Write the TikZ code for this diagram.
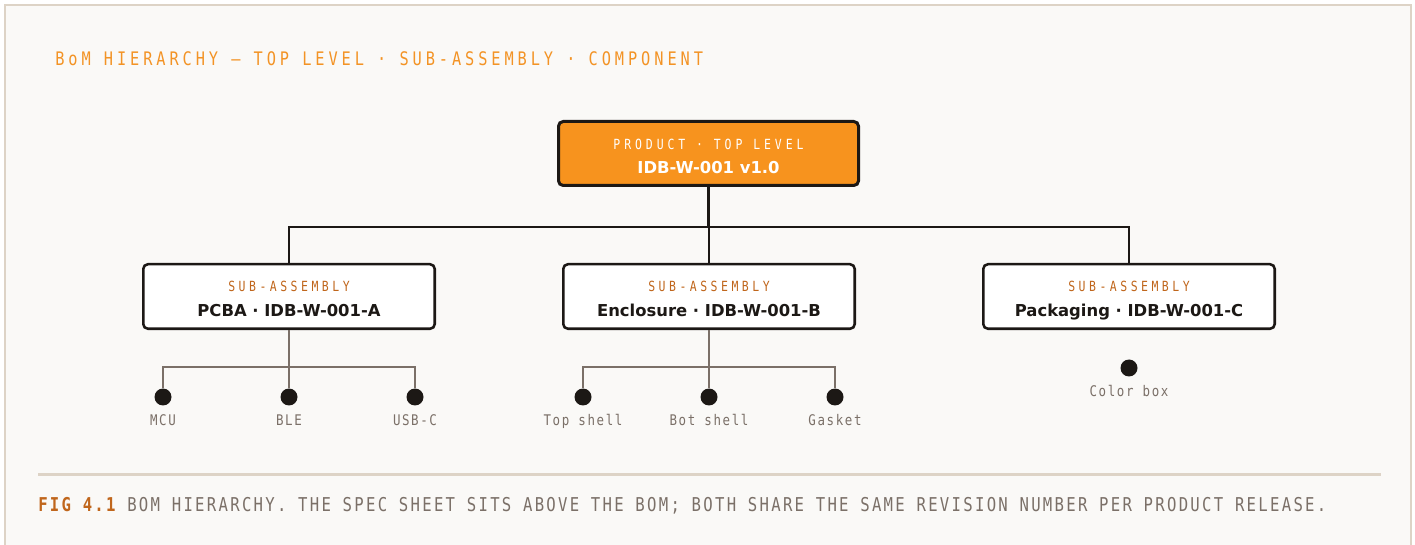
\documentclass[tikz,border=0pt]{standalone}
\usepackage{fontspec}
\usetikzlibrary{positioning}
\definecolor{bomOrange}{HTML}{F7931E}
\definecolor{bomTitle}{HTML}{F39325}
\definecolor{bomRust}{HTML}{C0661C}
\definecolor{bomInk}{HTML}{1C1815}
\definecolor{bomTaupe}{HTML}{7B7068}
\definecolor{bomPaper}{HTML}{FAF9F7}
\definecolor{bomRule}{HTML}{DDD3C6}
\newfontfamily\bomSans{DejaVu Sans}
\newfontfamily\monoTitle[FakeStretch=0.82,LetterSpace=21]{DejaVu Sans Mono}
\newfontfamily\monoCap[FakeStretch=0.82,LetterSpace=12]{DejaVu Sans Mono}
\newfontfamily\monoTag[FakeStretch=0.82,LetterSpace=28]{DejaVu Sans Mono}
\newfontfamily\monoSub[FakeStretch=0.82,LetterSpace=25]{DejaVu Sans Mono}
\newfontfamily\monoPart[FakeStretch=0.85,LetterSpace=11]{DejaVu Sans Mono}
\newcommand\colorTrunk{bomInk}
\newcommand\colorBranch{bomTaupe}
\newcommand\subY{296.5}
\newcommand\busDrop{40}
\newcommand\partDrop{37}
\newcommand\partY{397}
\newcommand\partBase{426}
\tikzset{
	topbox/.style={draw=bomInk, fill=bomOrange, line width=2.25pt, rounded corners=3.5pt,
		minimum width=225pt, minimum height=48pt, inner sep=0pt},
	subbox/.style={draw=bomInk, fill=white, line width=1.9pt, rounded corners=3.5pt,
		minimum width=218.6pt, minimum height=48.4pt, inner sep=0pt},
	tagtext/.style={anchor=base, inner sep=0pt, font=\monoTag\fontsize{10.5}{12}\selectfont},
	nametext/.style={anchor=base, inner sep=0pt, font=\bomSans\bfseries\fontsize{12.3}{14}\selectfont},
	partdot/.style={circle, fill=bomInk, minimum size=12.75pt, inner sep=0pt},
	partlabel/.style={anchor=base, text=bomTaupe, inner sep=0pt, font=\monoPart\fontsize{11}{13}\selectfont},
	trunk/.style={draw=\colorTrunk, line width=1.9pt},
	branch/.style={draw=\colorBranch, line width=1.5pt}
}

\begin{document}
\begin{tikzpicture}[x=0.75pt, y=-0.75pt]
	\useasboundingbox[fill=white] (0,0) rectangle (1415,545);
	\draw[fill=bomPaper, draw=bomRule, line width=1.5pt] (5,5) rectangle (1411,560);

	\node[anchor=base west, inner sep=0pt, text=bomTitle, font=\monoTitle\fontsize{14}{16}\selectfont]
		(title) at (55,66) {BoM HIERARCHY — TOP LEVEL · SUB-ASSEMBLY · COMPONENT};

	% top level and sub-assemblies
	\node[topbox] (top) at (708.5,153.5) {};
	\node[tagtext, text=white] (top-tag) at (708.5,150) {PRODUCT · TOP LEVEL};
	\node[nametext, text=white] (top-name) at (708.5,174) {IDB-W-001 v1.0};
	\foreach \name/\x/\lab in {pcba/289/PCBA · IDB-W-001-A, encl/709/Enclosure · IDB-W-001-B,
		pack/1129/Packaging · IDB-W-001-C}{
		\node[subbox] (\name) at (\x,\subY) {};
		\node[tagtext, text=bomRust, font=\monoSub\fontsize{10.5}{12}\selectfont] (\name-tag) at (\x,292) {SUB-ASSEMBLY};
		\node[nametext, text=bomInk] (\name-name) at (\x,317) {\lab};
		\draw[trunk] (top.south) -- ++(0,\busDrop) -| (\name.north);
	}

	% components
	\foreach \name/\up/\x/\lab in {mcu/pcba/163/MCU, ble/pcba/289/BLE, usbc/pcba/415/USB-C,
		topshell/encl/583/Top shell, botshell/encl/709/Bot shell, gasket/encl/835/Gasket}{
		\node[partdot] (\name) at (\x,\partY) {};
		\node[partlabel] (\name-l) at (\x,\partBase) {\lab};
		\draw[branch] (\up.south) -- ++(0,\partDrop) -| (\name);
	}
	\node[partdot] (colorbox) at (1129,368) {};
	\node[partlabel] (colorbox-l) at (1129,397) {Color box};

	% caption
	\draw[bomRule, line width=2.25pt] (38,475) coordinate (rule-l) -- (1381,475) coordinate (rule-r);
	\node[anchor=base west, inner sep=0pt, text=bomTaupe, font=\monoCap\fontsize{14.3}{16}\selectfont]
		(caption) at (38,511)
		{{\bfseries\color{bomRust}FIG 4.1} BOM HIERARCHY. THE SPEC SHEET SITS ABOVE THE BOM; BOTH SHARE THE SAME REVISION NUMBER PER PRODUCT RELEASE.};
\end{tikzpicture}
\end{document}
